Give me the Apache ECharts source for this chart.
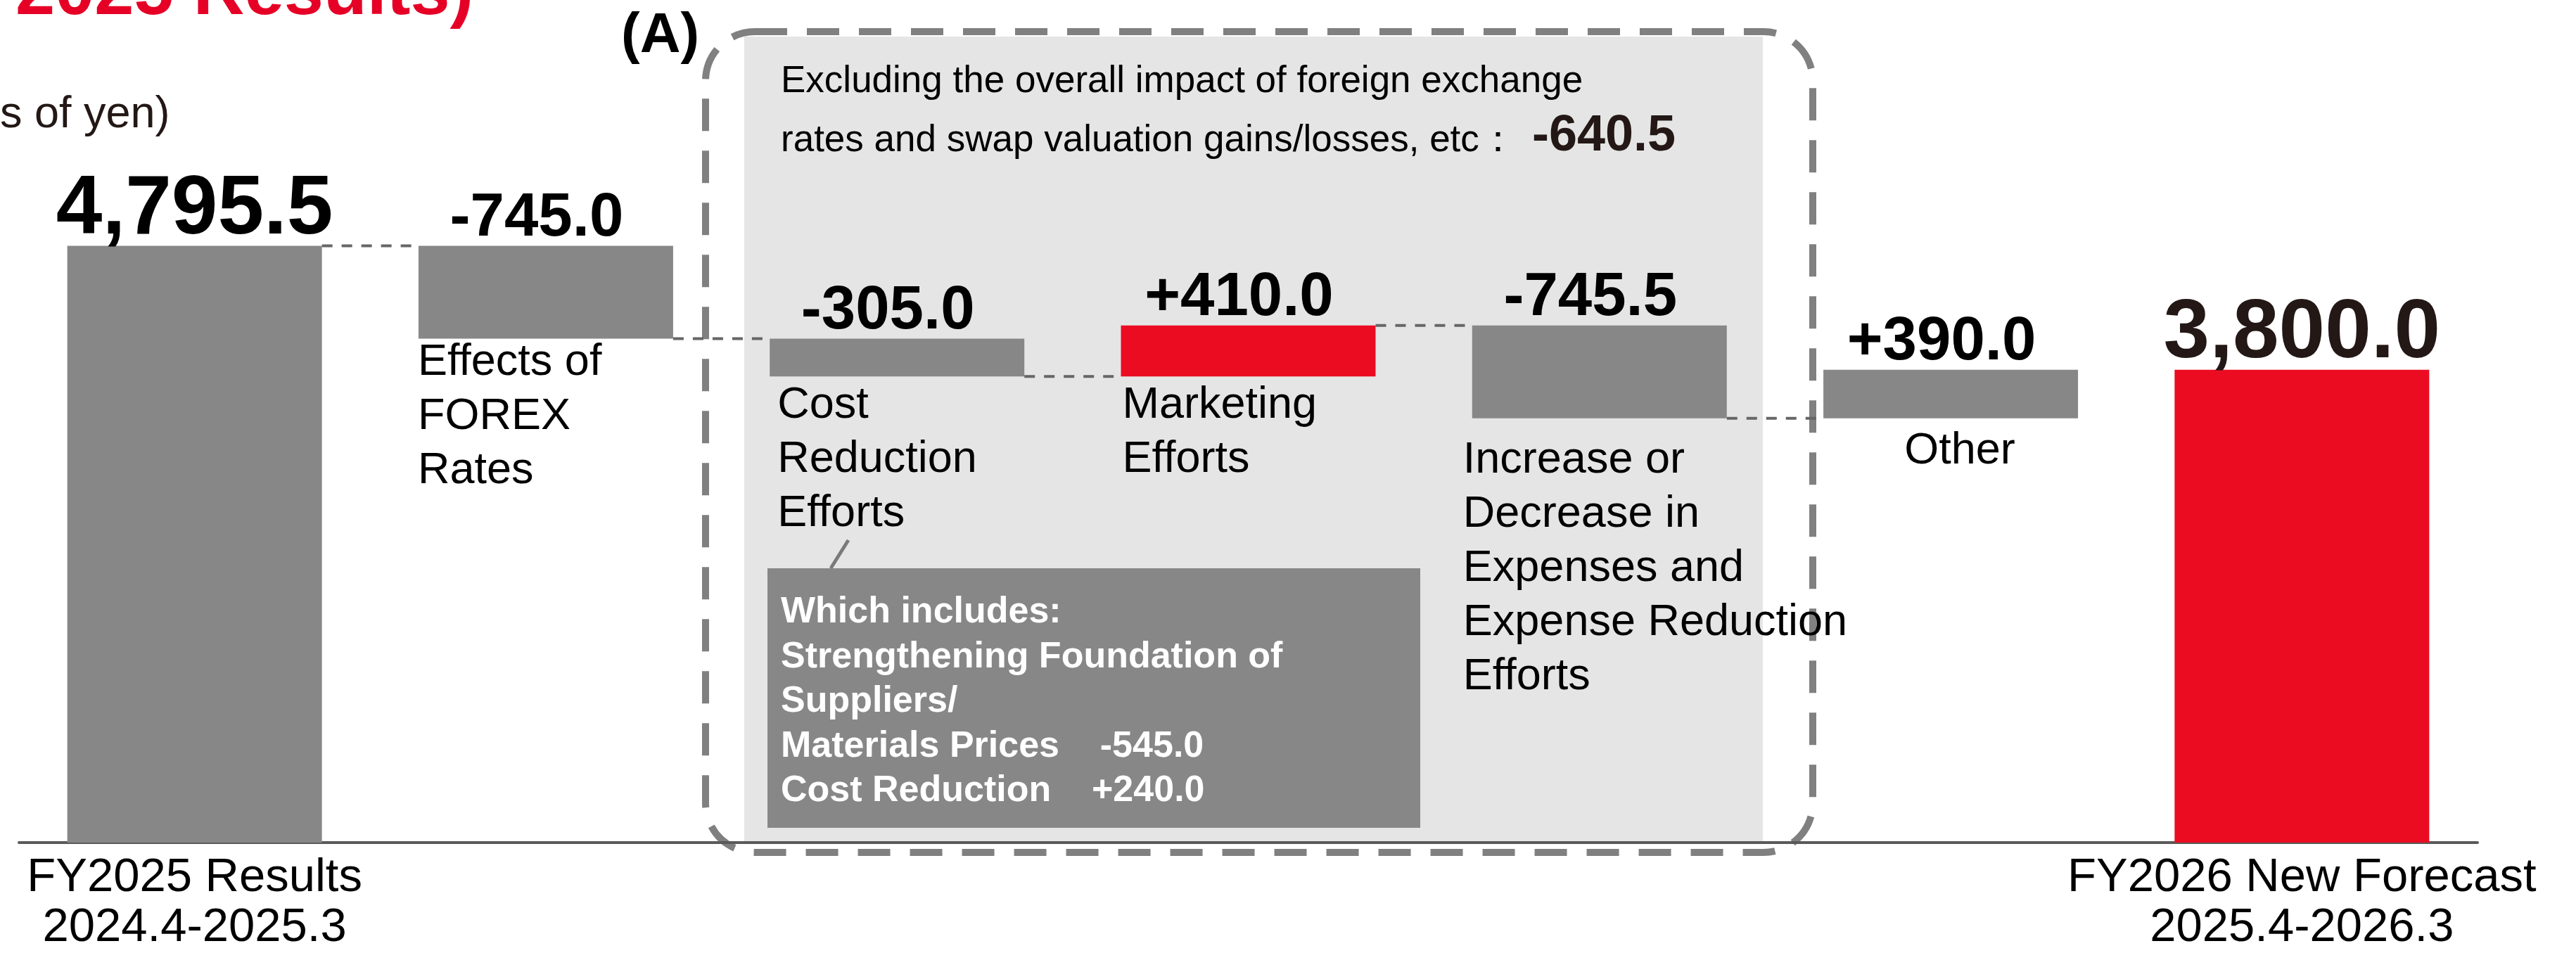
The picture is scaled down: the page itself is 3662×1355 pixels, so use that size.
<!DOCTYPE html>
<html>
<head>
<meta charset="utf-8">
<script src="https://cdn.jsdelivr.net/npm/echarts@6/dist/echarts.min.js"></script>
<style>
html, body { margin: 0; padding: 0; background: #fff; }
#chart_waterfall { width: 3662px; height: 1355px; }
</style>
</head>
<body>
<div id="chart_waterfall"></div>
<script>
// data
var categories = [
    'FY2025 Results\n2024.4-2025.3',
    'Effects of\nFOREX\nRates',
    'Cost\nReduction\nEfforts',
    'Marketing\nEfforts',
    'Increase or\nDecrease in\nExpenses and\nExpense Reduction\nEfforts',
    'Other',
    'FY2026 New Forecast\n2025.4-2026.3'
];
var startTotal = 4795.5;
var changes = [-745.0, -305.0, 410.0, -745.5, 390.0];
var endTotal = 3800.0;
var excludingFx = -640.5;
var breakdownNames = ['Strengthening Foundation of\nSuppliers/\nMaterials Prices', 'Cost Reduction'];
var breakdownValues = [-545.0, 240.0];

var FONT = '"Liberation Sans", Arial, sans-serif';
var GRAY = '#878787';
var RED = '#EB0C22';
var barColors = [GRAY, GRAY, GRAY, RED, GRAY, GRAY, RED];
// where the item name sits under each floating bar
var nameLabelStyle = [
    null,
    {position: ['0%', '0%'], align: 'left', offset: [-1, -4]},
    {position: ['0%', '0%'], align: 'left', offset: [11, 3]},
    {position: ['0%', '0%'], align: 'left', offset: [2, 3]},
    {position: ['0%', '0%'], align: 'left', offset: [-13, 21]},
    {position: ['50%', '0%'], align: 'center', offset: [13, 8]},
    null
];

// waterfall pieces
var baseValues = [0], barValues = [startTotal], levels = [startTotal];
var running = startTotal;
changes.forEach(function (c) {
    baseValues.push(c < 0 ? running + c : running);
    barValues.push(Math.abs(c));
    running += c;
    levels.push(running);
});
baseValues.push(0);
barValues.push(endTotal);

function fmtTotal(v) {
    return v.toLocaleString('en-US', {minimumFractionDigits: 1, maximumFractionDigits: 1});
}
function fmtChange(v) {
    return (v > 0 ? '+' : '-') + Math.abs(v).toFixed(1);
}
var valueLabels = [fmtTotal(startTotal)].concat(changes.map(fmtChange), [fmtTotal(endTotal)]);
var isTotal = categories.map(function (c, i) { return i === 0 || i === categories.length - 1; });

var breakdownText = 'Which includes:\n' + breakdownNames.map(function (n, i) {
    return n + '    ' + fmtChange(breakdownValues[i]);
}).join('\n');

var chart_waterfall = echarts.init(document.getElementById('chart_waterfall'));
chart_waterfall.setOption({
    animation: false,
    grid: {left: 27, right: 140, top: 136.5, bottom: 155},
    xAxis: {
        type: 'category',
        data: categories,
        axisLine: {lineStyle: {color: '#5a5a5a', width: 4}},
        axisTick: {show: false},
        splitLine: {show: false},
        axisLabel: {
            interval: 0, margin: 15,
            fontFamily: FONT, fontSize: 67, lineHeight: 71, color: '#000',
            formatter: function (v, i) { return isTotal[i] ? v : ''; }
        }
    },
    yAxis: {type: 'value', min: 0, max: 6000, show: false, splitLine: {show: false}},
    series: [
        {
            name: 'base', type: 'bar', stack: 'wf', barWidth: '72.5%', silent: true,
            itemStyle: {color: 'rgba(0,0,0,0)'},
            emphasis: {disabled: true},
            data: baseValues.map(function (v, i) {
                var s = nameLabelStyle[i];
                return {
                    value: v,
                    label: s ? {
                        show: true, position: s.position, align: s.align, verticalAlign: 'top',
                        offset: s.offset,
                        formatter: categories[i],
                        fontFamily: FONT, fontSize: 63, lineHeight: 77, color: '#000'
                    } : {show: false}
                };
            })
        },
        {
            name: 'value', type: 'bar', stack: 'wf', barWidth: '72.5%', silent: true,
            emphasis: {disabled: true},
            label: {
                show: true, position: 'top', distance: 0,
                fontFamily: FONT, fontWeight: 'bold', color: '#000',
                formatter: function (p) { return valueLabels[p.dataIndex]; }
            },
            data: barValues.map(function (v, i) {
                return {
                    value: v,
                    itemStyle: {color: barColors[i]},
                    label: isTotal[i]
                        ? {fontSize: 118, offset: [0, 9], color: i === 0 ? '#000' : '#231815'}
                        : {fontSize: 87, offset: [-13, 5]}
                };
            })
        },
        {
            name: 'connector', type: 'custom', silent: true, z: 3,
            data: levels.slice(0, levels.length - 1).map(function (v, i) { return [i, v]; }),
            renderItem: function (params, api) {
                var i = api.value(0), lv = api.value(1);
                var p0 = api.coord([i, lv]);
                var p1 = api.coord([i + 1, lv]);
                var half = api.size([1, 0])[0] * 0.725 / 2;
                return {
                    type: 'line',
                    shape: {x1: p0[0] + half, y1: p0[1], x2: p1[0] - half, y2: p1[1]},
                    style: {stroke: '#666', lineWidth: 4, lineDash: [15, 13]}
                };
            }
        }
    ],
    graphic: [
        {type: 'text', x: 22, y: 43, silent: true,
            style: {text: '2025 Results)', font: 'bold 101px ' + FONT, fill: '#E60026', verticalAlign: 'bottom'}},
        {type: 'text', x: 0, y: 195, silent: true,
            style: {text: 's of yen)', font: '63px ' + FONT, fill: '#231815', verticalAlign: 'bottom'}},
        {type: 'text', x: 883, y: 92, silent: true,
            style: {text: '(A)', font: 'bold 80px ' + FONT, fill: '#000', verticalAlign: 'bottom'}},
        {type: 'rect', silent: true,
            shape: {x: 1058, y: 52, width: 1448, height: 1147},
            style: {fill: '#E5E5E5'}},
        {type: 'rect', silent: true,
            shape: {x: 1003, y: 45, width: 1574, height: 1167, r: 70},
            style: {fill: 'transparent', stroke: '#808080', lineWidth: 10, lineDash: [46, 28]}},
        {type: 'text', x: 1110, y: 143, silent: true,
            style: {text: 'Excluding the overall impact of foreign exchange', font: '53px ' + FONT, fill: '#000', verticalAlign: 'bottom'}},
        {type: 'text', x: 1110, y: 227, silent: true,
            style: {text: 'rates and swap valuation gains/losses, etc\uff1a', font: '53px ' + FONT, fill: '#000', verticalAlign: 'bottom'}},
        {type: 'text', x: 2178, y: 230, silent: true,
            style: {text: fmtChange(excludingFx), font: 'bold 72px ' + FONT, fill: '#231815', verticalAlign: 'bottom'}},
        {type: 'line', silent: true,
            shape: {x1: 1206, y1: 768, x2: 1181, y2: 808},
            style: {stroke: '#7a7a7a', lineWidth: 5}},
        {type: 'rect', silent: true,
            shape: {x: 1091, y: 808, width: 928, height: 369},
            style: {fill: GRAY}},
        {type: 'text', x: 1110, y: 839, silent: true,
            style: {text: breakdownText, font: 'bold 52px ' + FONT, lineHeight: 63.5, fill: '#fff', verticalAlign: 'top'}}
    ]
});
</script>
</body>
</html>
